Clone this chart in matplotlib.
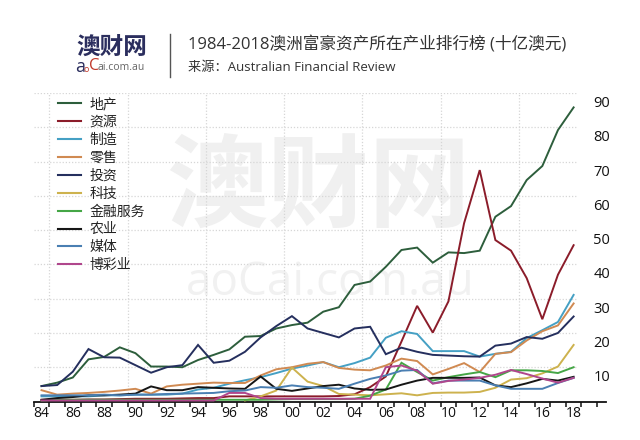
import matplotlib
matplotlib.use('Agg')
import matplotlib.pyplot as plt
import numpy as np
from matplotlib.lines import Line2D
from matplotlib.transforms import ScaledTranslation

years = list(range(1984, 2019))
n_cats = 36  # 1984..2019 category slots
tick_labels = ['84', '86', '88', '90', '92', '94', '96', '98', '00', '02',
               '04', '06', '08', '10', '12', '14', '16', '18']

real_estate = [4.5, 5.5, 7.0, 12.3, 13.0, 15.8, 14.1, 10.2, 10.2, 10.0,
               12.1, 13.6, 15.2, 18.9, 19.1, 21.3, 22.3, 23.0, 26.2, 27.5,
               34.0, 35.0, 39.3, 44.2, 44.9, 40.5, 43.5, 43.3, 44.0, 53.9,
               57.0, 64.6, 68.7, 79.2, 85.8]
resources = [0.5, 0.5, 0.5, 0.6, 0.6, 0.7, 0.8, 0.8, 0.8, 0.9,
             1.0, 1.0, 1.5, 1.5, 1.5, 1.5, 1.5, 1.5, 1.5, 1.6,
             2.1, 4.2, 7.3, 17.5, 27.9, 20.1, 29.2, 52.0, 67.5, 47.1,
             44.0, 36.0, 24.0, 37.0, 45.6]
manufacturing = [1.5, 1.5, 1.5, 1.5, 1.8, 1.8, 2.0, 2.0, 2.0, 2.3,
                 3.5, 4.0, 5.2, 6.2, 7.1, 8.3, 9.6, 10.5, 11.5, 10.0,
                 11.2, 12.8, 18.6, 20.5, 19.7, 14.7, 14.7, 14.7, 13.1, 13.9,
                 14.5, 18.5, 20.8, 23.2, 31.1]
retail = [3.3, 2.0, 2.3, 2.5, 2.8, 3.2, 3.7, 2.3, 4.4, 4.9,
          5.2, 5.5, 5.4, 5.4, 7.6, 9.4, 10.0, 11.0, 11.5, 9.8,
          9.3, 9.1, 10.5, 12.5, 11.8, 7.9, 9.5, 11.2, 8.6, 13.9,
          14.4, 17.8, 20.5, 22.2, 28.6]
investment = [4.5, 4.8, 8.7, 15.3, 12.9, 12.8, 10.6, 8.4, 10.0, 10.6,
              16.5, 11.3, 11.9, 14.5, 18.7, 22.0, 24.9, 21.3, 20.0, 18.7,
              21.3, 21.8, 13.8, 15.7, 14.5, 13.6, 13.4, 13.2, 13.1, 16.3,
              16.9, 18.8, 18.3, 20.0, 24.8]
tech = [None] * 13 + [0.3, 1.5, 3.2, 9.9, 5.8, 4.5, 2.2,
                      2.0, 1.8, 2.1, 2.4, 1.8, 2.5, 2.6, 2.6, 2.8, 4.0,
                      6.4, 6.8, 8.2, 10.2, 16.5]
finance = [0.3, 0.5, 0.5, 0.5, 0.5, 0.5, 0.5, 0.5, 0.5, 0.5,
           0.5, 0.5, 0.5, 0.5, 0.5, 0.6, 0.7, 0.7, 0.7, 0.7,
           0.8, 1.7, 3.5, 11.3, 8.6, 6.1, 7.1, 7.9, 8.6, 7.1,
           9.1, 9.1, 8.9, 8.3, 10.0]
agriculture = [0.5, 1.0, 1.3, 1.8, 1.8, 2.0, 2.3, 4.4, 3.3, 3.3,
               4.2, 4.0, 3.8, 3.7, 7.3, 3.7, 3.1, 3.8, 4.5, 4.9,
               3.8, 3.4, 3.5, 4.9, 6.1, 6.9, 6.9, 6.9, 7.0, 4.7,
               4.2, 5.3, 6.6, 6.1, 7.2]
media = [1.8, 1.8, 1.8, 1.8, 2.0, 1.8, 2.0, 2.0, 2.2, 2.3,
         2.4, 2.5, 3.0, 3.2, 4.2, 4.0, 4.7, 4.2, 4.0, 3.7,
         5.2, 6.6, 7.6, 9.0, 9.2, 5.3, 6.1, 6.1, 6.1, 4.7,
         3.7, 3.7, 3.7, 5.4, 6.9]
gambling = [0.3, 0.3, 0.3, 0.3, 0.3, 0.3, 0.3, 0.3, 0.3, 0.3,
            0.3, 0.3, 2.5, 2.5, 1.0, 0.8, 0.8, 0.8, 0.8, 0.8,
            0.8, 0.8, 10.0, 10.5, 9.0, 5.2, 6.0, 6.4, 6.9, 7.8,
            9.2, 8.0, 6.7, 5.5, 6.9]

series_names = ['地产', '资源', '制造', '零售', '投资', '科技', '金融服务', '农业', '媒体', '博彩业']
series_values = [real_estate, resources, manufacturing, retail, investment,
                 tech, finance, agriculture, media, gambling]
series_colors = ['#2d5e3c', '#8b1c2a', '#45a0c4', '#d08a52', '#252f5e',
                 '#cdb24e', '#45a646', '#161616', '#4a7fb2', '#b0468c']

plt.rcParams['font.family'] = ['Open Sans', 'Noto Sans CJK SC', 'DejaVu Sans']

W, H = 640, 440
fig = plt.figure(figsize=(6.4, 4.4), dpi=100)
fig.patch.set_facecolor('white')

px_per_cat = 15.65
x_left = 33.7
xmin, xmax = -0.5, 36.1
ax_w = (xmax - xmin) * px_per_cat
y_bottom = 401.5
y_top = 93.0
ax = fig.add_axes([x_left / W, (H - y_bottom) / H, ax_w / W, (y_bottom - y_top) / H])
ax.patch.set_visible(False)

# watermark
ax.text(318 / W, 1 - 190 / H, '澳财网', transform=fig.transFigure, fontsize=73,
        family=['Noto Sans CJK SC'], weight='bold', color='#f0f0f0',
        ha='center', va='center', zorder=0)
ax.text(330 / W, 1 - 283 / H, 'aoCai.com.au', transform=fig.transFigure, fontsize=33,
        family=['Open Sans'], color='#f1f1f1', ha='center', va='center', zorder=0)

x = np.arange(len(years))
for name, vals, col in zip(series_names, series_values, series_colors):
    v = np.array([np.nan if t is None else t for t in vals], dtype=float)
    ax.plot(x, v, color=col, lw=1.4, label=name, zorder=3, solid_joinstyle='miter')

ax.set_xlim(xmin, xmax)
ax.set_ylim(0, 90)

for s in ['top', 'right', 'left']:
    ax.spines[s].set_visible(False)
ax.spines['bottom'].set_linewidth(1.3)
ax.spines['bottom'].set_color('#111111')

# x ticks: boundaries with tick marks, labels at even-year category centers
ax.set_xticks(np.arange(-0.5, n_cats, 1.0))
ax.set_xticklabels([])
ax.tick_params(axis='x', which='major', direction='out', length=3.5, width=1.1, color='#111111')
ax.set_xticks(np.arange(0, len(years), 2), minor=True)
ax.set_xticklabels(tick_labels, minor=True)
ax.tick_params(axis='x', which='minor', length=0, pad=3, labelsize=10, labelcolor='#111111')

# y ticks on the right
yt = np.arange(10, 91, 10)
ax.yaxis.tick_right()
ax.set_yticks(yt)
ax.set_yticklabels([str(v) for v in yt])
ax.tick_params(axis='y', length=0, pad=-9.5, labelsize=10.5, labelcolor='#111111')
off = ScaledTranslation(0, -8.5 / 100, fig.dpi_scale_trans)
for lab in ax.get_yticklabels():
    lab.set_horizontalalignment('left')
    lab.set_transform(lab.get_transform() + off)

# grid
for v in yt:
    ax.plot([xmin, 34.2], [v, v], color='#d6d6d6', lw=0.9, ls=(0, (1, 1.5)), zorder=1)
for b in np.arange(0.5, 31, 5):
    ax.plot([b, b], [0, 90], color='#d6d6d6', lw=0.9, ls=(0, (1, 1.5)), zorder=1)

leg = ax.legend(loc='upper left', bbox_to_anchor=(58 / W, 1 - 97 / H),
                bbox_transform=fig.transFigure, frameon=False, fontsize=10,
                handlelength=1.65, handletextpad=0.6, labelspacing=0.21,
                borderpad=0, borderaxespad=0)
for t in leg.get_texts():
    t.set_color('#222222')
for h in leg.get_lines():
    h.set_linewidth(1.5)

# header
fig.text(76 / W, 1 - 47 / H, '澳财网', fontsize=17, weight='bold', color='#2b2e5e',
         family=['Noto Sans CJK SC'], ha='left', va='center')
fig.text(75 / W, 1 - 67 / H, 'a', fontsize=13, color='#2b2e5e', ha='left', va='center')
fig.text(84 / W, 1 - 70 / H, 'o', fontsize=6.5, color='#c0392b', ha='left', va='center')
fig.text(89 / W, 1 - 66.5 / H, 'C', fontsize=12, color='#c0392b', ha='left', va='center')
fig.text(98 / W, 1 - 68 / H, 'ai.com.au', fontsize=7.5, color='#666666', ha='left', va='center')
fig.add_artist(Line2D([170 / W, 170 / W], [1 - 34 / H, 1 - 77 / H], color='#555555', lw=1.0))
fig.text(188 / W, 1 - 45 / H, '1984-2018澳洲富豪资产所在产业排行榜 (十亿澳元)', fontsize=12,
         color='#333333', ha='left', va='center')
fig.text(188 / W, 1 - 67 / H, '来源：Australian Financial Review', fontsize=9.5,
         color='#333333', ha='left', va='center')

fig.savefig('out.png', dpi=100, facecolor='white')
